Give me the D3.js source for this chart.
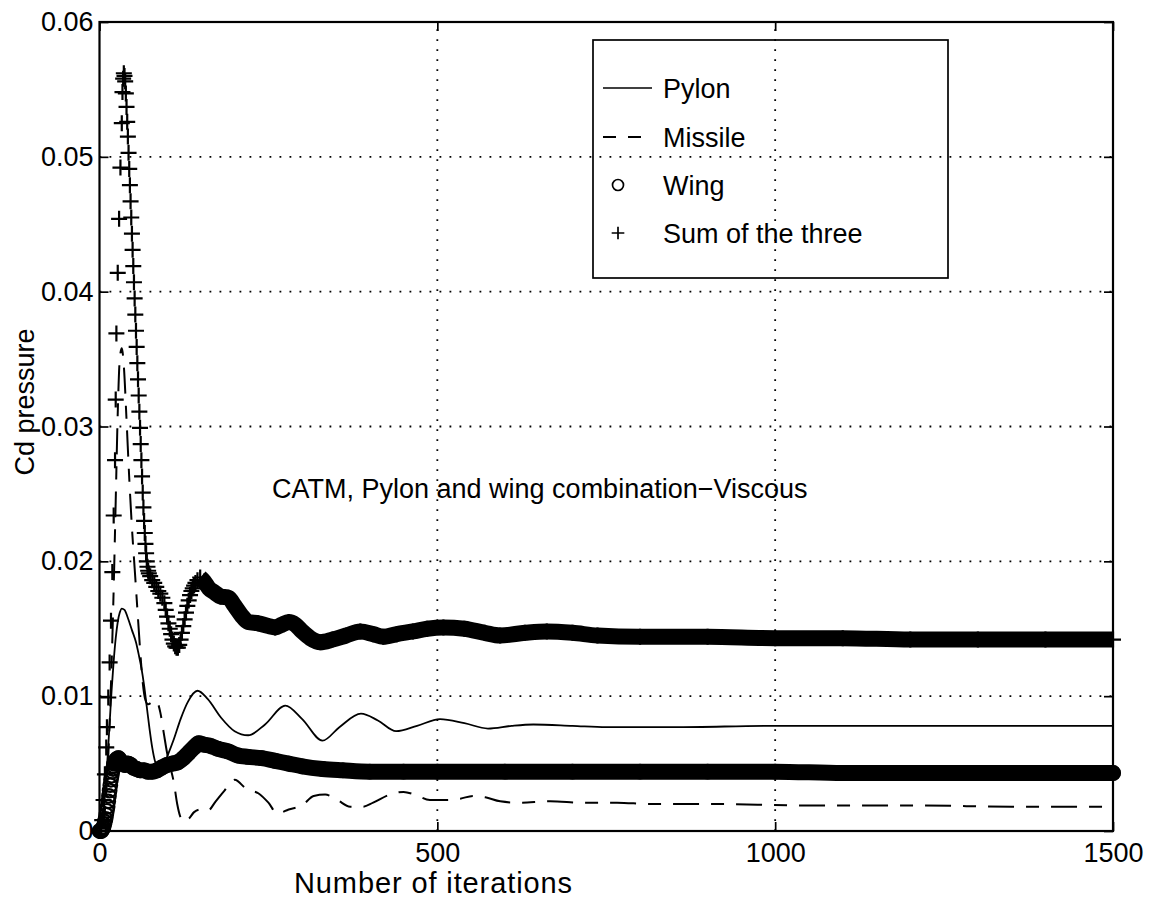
<!DOCTYPE html>
<html><head><meta charset="utf-8">
<script src="https://cdn.jsdelivr.net/npm/d3@7"></script>
<style>
html,body{margin:0;padding:0;background:#fff;}
svg{display:block;}
text{font-family:"Liberation Sans",Arial,Helvetica,sans-serif;fill:#000;}
</style></head><body>
<svg id="chart" width="1152" height="903"></svg>
<script>
// ---------- data ----------
const xTicks = [0, 500, 1000, 1500];
const xTickLabels = ["0", "500", "1000", "1500"];
const yTicks = [0, 0.01, 0.02, 0.03, 0.04, 0.05, 0.06];
const yTickLabels = ["0", "0.01", "0.02", "0.03", "0.04", "0.05", "0.06"];
const seriesNames = ["Pylon", "Missile", "Wing", "Sum of the three"];
const annotation = "CATM, Pylon and wing combination\u2212Viscous";
const xLabel = "Number of iterations";
const yLabel = "Cd pressure";

const pylonIter = [0,3,6,9,12,15,18,21,24,27,30,33,37,42,48,54,58,62,66,70,74,78,82,86,90,95,100,110,120,131,145,160,180,200,220,245,275,300,330,355,387,412,439,470,504,540,575,610,642,700,750,850,1000,1200,1500];
const pylonVal  = [0,0.0004,0.0015,0.0032,0.0055,0.0080,0.0105,0.0126,0.0143,0.0155,0.0162,0.0165,0.0164,0.0158,0.0149,0.0140,0.0131,0.0121,0.0108,0.0092,0.0076,0.0062,0.0052,0.0047,0.0046,0.0049,0.0055,0.0068,0.0083,0.0096,0.0104,0.0098,0.0084,0.0074,0.0071,0.0079,0.0093,0.0083,0.0067,0.0077,0.0087,0.0082,0.0074,0.0078,0.0083,0.0080,0.0076,0.0078,0.0079,0.0078,0.0077,0.0077,0.0078,0.0078,0.0078];

const missileIter = [0,4,8,12,15,18,21,24,27,30,33,36,40,44,48,52,56,60,64,68,72,76,80,85,90,95,100,105,110,115,120,125,132,140,150,160,172,185,200,218,235,250,263,280,300,317,334,352,371,390,405,430,450,467,489,514,534,553,571,593,620,667,716,766,815,914,1037,1200,1350,1500];
const missileVal  = [0,0.0003,0.0015,0.0045,0.0080,0.0125,0.0180,0.0245,0.0310,0.0350,0.0358,0.0345,0.0305,0.0262,0.0225,0.0195,0.0165,0.0135,0.0110,0.0097,0.0094,0.0095,0.0097,0.0096,0.0088,0.0073,0.0058,0.0047,0.0036,0.0020,0.0010,0.0007,0.0009,0.0014,0.0016,0.0015,0.0022,0.0030,0.0038,0.0031,0.0028,0.0021,0.0013,0.0016,0.0019,0.0026,0.0027,0.0023,0.0018,0.0018,0.0021,0.0027,0.0029,0.0027,0.0023,0.0023,0.0024,0.0026,0.0025,0.0022,0.0021,0.0022,0.0021,0.0021,0.0020,0.0020,0.0019,0.0019,0.0018,0.0018];

const wingIter = [0,1,2,3,4,5,6,7,8,9,10,11,12,13,14,15,16,17,18,19,20,21,22,23,24,25,28,31,34,38,42,46,50,55,60,66,72,78,85,92,100,108,116,124,132,140,147,155,165,175,190,205,220,240,260,280,300,330,360,400,450,500,600,700,800,900,1000,1100,1200,1300,1400,1500];
const wingVal  = [0,0,0,0,0.0001,0.0002,0.0003,0.0005,0.0007,0.0009,0.0012,0.0015,0.0018,0.0022,0.0026,0.0030,0.0034,0.0038,0.0041,0.0044,0.0046,0.0048,0.0050,0.0051,0.0052,0.0053,0.0054,0.0052,0.0050,0.0049,0.0050,0.0049,0.0047,0.0046,0.0045,0.0045,0.0044,0.0044,0.0045,0.0047,0.0049,0.0050,0.0051,0.0054,0.0058,0.0062,0.0065,0.0064,0.0063,0.0061,0.0059,0.0056,0.0055,0.0054,0.0052,0.0050,0.0048,0.0046,0.0045,0.0044,0.0044,0.0044,0.0044,0.0044,0.0044,0.0044,0.0044,0.0043,0.0043,0.0043,0.0043,0.0043];

const sumIter = [0,2,4,6,8,10,11,13,15,17,19,21,23,24,25,27,29,31,33,34,35,36,37,38,39,40,41,42,43,44,45,46,47,48,49,50,51,52,53,54,55,56,57,58,59,60,61,62,63,64,65,66,67,68,69,70,71,72,73,75,78,81,84,87,90,93,96,98,100,102,104,106,108,110,112,114,116,118,120,122,124,126,128,130,132,134,136,138,140,142,145,149,155,162,170,179,191,200,210,220,235,250,260,270,280,290,300,312,327,345,365,386,405,420,440,464,485,509,540,570,593,630,662,700,737,800,900,1000,1100,1200,1300,1400,1500];
const sumVal  = [0,0.0002,0.0008,0.0023,0.0042,0.0062,0.0077,0.0099,0.0125,0.0156,0.0192,0.0234,0.0275,0.0320,0.0369,0.0414,0.0454,0.0492,0.0525,0.0548,0.0558,0.0562,0.0560,0.0556,0.0547,0.0537,0.0526,0.0515,0.0503,0.0491,0.0479,0.0467,0.0455,0.0443,0.0431,0.0419,0.0407,0.0395,0.0383,0.0371,0.0359,0.0347,0.0335,0.0323,0.0311,0.0299,0.0287,0.0275,0.0263,0.0251,0.0240,0.0230,0.0221,0.0213,0.0206,0.0200,0.0196,0.0193,0.0191,0.0189,0.0186,0.0184,0.0181,0.0178,0.0176,0.0173,0.0169,0.0164,0.0159,0.0154,0.0150,0.0146,0.0142,0.0139,0.0137,0.0136,0.0136,0.0138,0.0142,0.0147,0.0152,0.0157,0.0162,0.0167,0.0171,0.0175,0.0178,0.0180,0.0182,0.0184,0.0186,0.0188,0.0185,0.0180,0.0177,0.0174,0.0173,0.0167,0.0160,0.0155,0.0154,0.0152,0.0151,0.0153,0.0155,0.0153,0.0148,0.0143,0.0140,0.0142,0.0145,0.0148,0.0146,0.0144,0.0146,0.0148,0.0150,0.0151,0.0150,0.0147,0.0145,0.0147,0.0148,0.0147,0.0145,0.0144,0.0144,0.0143,0.0143,0.0142,0.0142,0.0142,0.0142];

// iteration from which the dense markers merge into a solid band
const wingBandFrom = 22;
const sumBandFrom = 149;

// ---------- drawing ----------
const svg = d3.select("#chart");
const FS = 27;
const x = d3.scaleLinear().domain([0, 1500]).range([99.5, 1113]);
const y = d3.scaleLinear().domain([0, 0.06]).range([831, 22]);

const zip = (a, b) => a.map((v, i) => [v, b[i]]);
const pylon = zip(pylonIter, pylonVal);
const missile = zip(missileIter, missileVal);
const wing = zip(wingIter, wingVal);
const sum = zip(sumIter, sumVal);

// grid (dotted)
const grid = svg.append("g").attr("stroke", "#000").attr("stroke-width", 1.8)
  .attr("stroke-dasharray", "1.8,8.2").attr("fill", "none");
grid.selectAll("line.gx").data(xTicks.slice(1, -1)).join("line")
  .attr("x1", d => x(d)).attr("x2", d => x(d)).attr("y1", y(0)).attr("y2", y(0.06));
grid.selectAll("line.gy").data(yTicks.slice(1, -1)).join("line")
  .attr("x1", x(0)).attr("x2", x(1500)).attr("y1", d => y(d)).attr("y2", d => y(d));

// axes
function styleAxis(g) {
  g.select(".domain").remove();
  g.selectAll(".tick line").attr("stroke", "#000").attr("stroke-width", 1.7);
  g.selectAll("text").attr("font-size", FS).attr("fill", "#000")
    .attr("font-family", '"Liberation Sans",Arial,sans-serif');
}
svg.append("g").attr("transform", `translate(0,${y(0)})`)
  .call(d3.axisBottom(x).tickValues(xTicks).tickSize(-9).tickSizeOuter(0).tickPadding(12)
    .tickFormat((d, i) => xTickLabels[i])).call(styleAxis);
svg.append("g").attr("transform", `translate(0,${y(0.06)})`)
  .call(d3.axisTop(x).tickValues(xTicks).tickSize(-9).tickSizeOuter(0).tickFormat("")).call(styleAxis);
svg.append("g").attr("transform", `translate(${x(0)},0)`)
  .call(d3.axisLeft(y).tickValues(yTicks).tickSize(-9).tickSizeOuter(0).tickPadding(6)
    .tickFormat((d, i) => yTickLabels[i])).call(styleAxis);
svg.append("g").attr("transform", `translate(${x(1500)},0)`)
  .call(d3.axisRight(y).tickValues(yTicks).tickSize(-9).tickSizeOuter(0).tickFormat("")).call(styleAxis);

// frame
svg.append("rect").attr("x", x(0)).attr("y", y(0.06))
  .attr("width", x(1500) - x(0)).attr("height", y(0) - y(0.06))
  .attr("fill", "none").attr("stroke", "#000").attr("stroke-width", 2.2);

const line = d3.line().x(d => x(d[0])).y(d => y(d[1])).curve(d3.curveMonotoneX);

// Pylon
svg.append("path").datum(pylon).attr("d", line)
  .attr("fill", "none").attr("stroke", "#000").attr("stroke-width", 1.8);
// Missile
svg.append("path").datum(missile).attr("d", line)
  .attr("fill", "none").attr("stroke", "#000").attr("stroke-width", 2)
  .attr("stroke-dasharray", "26,12,13,12");

// Wing: circles at every point, merging into a solid band
svg.append("path").datum(wing.filter(d => d[0] >= wingBandFrom)).attr("d", line)
  .attr("fill", "none").attr("stroke", "#000").attr("stroke-width", 16)
  .attr("stroke-linecap", "round").attr("stroke-linejoin", "round");
svg.append("g").selectAll("circle").data(wing).join("circle")
  .attr("cx", d => x(d[0])).attr("cy", d => y(d[1])).attr("r", 6.8)
  .attr("fill", "none").attr("stroke", "#000").attr("stroke-width", 2.2);

// Sum: plus markers at every point, merging into a solid band
const plusType = { draw(ctx, size) { const r = Math.sqrt(size) / 2;
  ctx.moveTo(-r, 0); ctx.lineTo(r, 0); ctx.moveTo(0, -r); ctx.lineTo(0, r); } };
svg.append("path").datum(sum.filter(d => d[0] >= sumBandFrom)).attr("d", line)
  .attr("fill", "none").attr("stroke", "#000").attr("stroke-width", 16)
  .attr("stroke-linejoin", "round");
svg.append("g").selectAll("path").data(sum).join("path")
  .attr("transform", d => `translate(${x(d[0])},${y(d[1])})`)
  .attr("d", d3.symbol().type(plusType).size(256))
  .attr("fill", "none").attr("stroke", "#000").attr("stroke-width", 2.2);

// annotation
svg.append("text").attr("x", 272).attr("y", 498).attr("font-size", FS).text(annotation);

// axis labels
svg.append("text").attr("x", 433).attr("y", 893).attr("text-anchor", "middle")
  .attr("font-size", 29).attr("textLength", 278).attr("lengthAdjust", "spacing").text(xLabel);
svg.append("text").attr("transform", "translate(34,402) rotate(-90)").attr("text-anchor", "middle")
  .attr("font-size", FS).text(yLabel);

// legend
const lg = svg.append("g");
lg.append("rect").attr("x", 593).attr("y", 40).attr("width", 355).attr("height", 238)
  .attr("fill", "none").attr("stroke", "#000").attr("stroke-width", 1.7);
const rowsY = [88, 137, 185, 233];
lg.append("line").attr("x1", 603).attr("x2", 652).attr("y1", rowsY[0]).attr("y2", rowsY[0])
  .attr("stroke", "#000").attr("stroke-width", 1.7);
lg.append("line").attr("x1", 603).attr("x2", 643).attr("y1", rowsY[1]).attr("y2", rowsY[1])
  .attr("stroke", "#000").attr("stroke-width", 1.9).attr("stroke-dasharray", "13,12");
lg.append("circle").attr("cx", 618).attr("cy", rowsY[2]).attr("r", 5.5)
  .attr("fill", "none").attr("stroke", "#000").attr("stroke-width", 1.7);
lg.append("path").attr("transform", `translate(618,${rowsY[3]})`)
  .attr("d", d3.symbol().type(plusType).size(160))
  .attr("fill", "none").attr("stroke", "#000").attr("stroke-width", 1.7);
lg.selectAll("text").data(seriesNames).join("text")
  .attr("x", 663).attr("y", (d, i) => rowsY[i] + 10).attr("font-size", FS).text(d => d);
</script>
</body></html>
